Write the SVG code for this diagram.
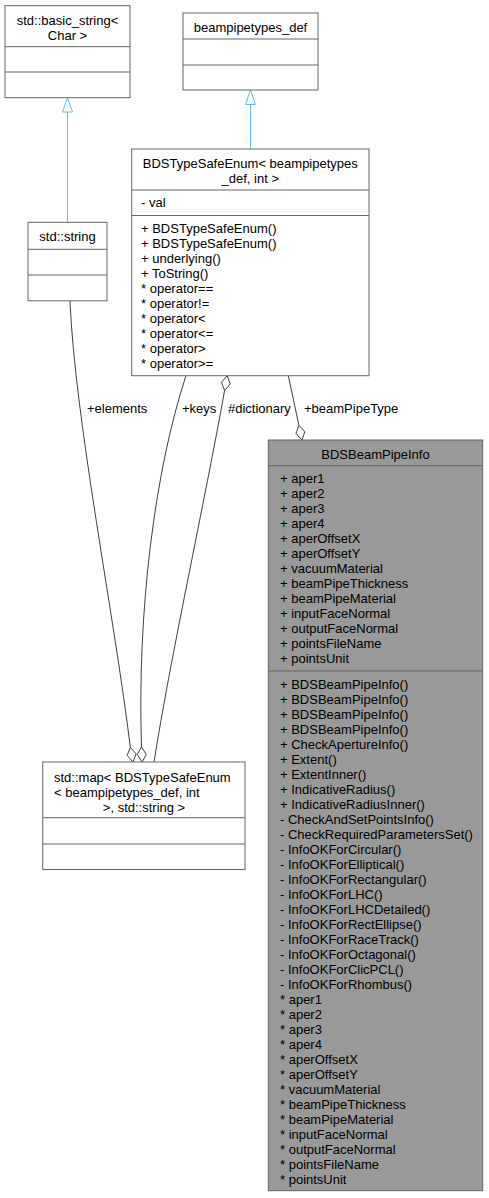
<svg xmlns="http://www.w3.org/2000/svg" width="489" height="1198" viewBox="0 0 489 1198">
<style>
.box{fill:#ffffff;stroke:#666666;stroke-width:1}
.hl{fill:#999999;stroke:#666666;stroke-width:1}
.sep{stroke:#666666;stroke-width:1}
text{font-family:"Liberation Sans",Arial,Helvetica,sans-serif;font-size:13px;fill:#000000}
.c{text-anchor:middle}
.edge{fill:none;stroke:#404040;stroke-width:1}
.inh{fill:none;stroke:#63B8FF;stroke-width:1}
.tri{fill:#ffffff;stroke:#63B8FF;stroke-width:1}
.dia{fill:#ffffff;stroke:#404040;stroke-width:1}
</style>
<rect width="489" height="1198" fill="#ffffff"/>
<g id="connectors">
  <path class="inh" d="M67.5,112 L67.5,222"/>
  <polygon class="tri" points="67.5,97.7 72.5,112 62.5,112"/>
  <path class="inh" d="M250.5,104.5 L250.5,149"/>
  <polygon class="tri" points="250.5,90 255.5,104.5 245.5,104.5"/>
  <path class="edge" d="M70,301 C75,420 115,620 130.3,747.3"/>
  <polygon class="dia" points="133,762 136,753.8 130.3,747.3 127.2,755.4"/>
  <text x="87" y="412.5">+elements</text>
  <path class="edge" d="M186,375.7 C155,470 137,610 141.5,747"/>
  <polygon class="dia" points="142,762 146.3,754.5 141.5,747 137.2,754.5"/>
  <text x="182" y="412.5">+keys</text>
  <path class="edge" d="M154,762 C170,660 205,500 224.6,390.5"/>
  <polygon class="dia" points="227.2,375.7 230.3,383.9 224.6,390.5 221.5,382.3"/>
  <text x="228" y="412.5">#dictionary</text>
  <path class="edge" d="M288.3,375.7 L298.9,425.3"/>
  <polygon class="dia" points="302,440 304.8,431.7 298.9,425.3 296,433.6"/>
  <text x="304" y="412.5">+beamPipeType</text>
</g>
<g id="node-basic_string">
  <rect class="box" x="5" y="5.7" width="125" height="92"/>
  <line class="sep" x1="5" y1="46.7" x2="130" y2="46.7"/>
  <line class="sep" x1="5" y1="72" x2="130" y2="72"/>
  <text class="c" x="67.5" y="24.5">std::basic_string&lt;</text>
  <text class="c" x="67.5" y="39.5">Char &gt;</text>
</g>
<g id="node-beampipetypes_def">
  <rect class="box" x="183" y="13" width="135" height="77"/>
  <line class="sep" x1="183" y1="39" x2="318" y2="39"/>
  <line class="sep" x1="183" y1="65" x2="318" y2="65"/>
  <text class="c" x="250.5" y="32">beampipetypes_def</text>
</g>
<g id="node-BDSTypeSafeEnum">
  <rect class="box" x="131.7" y="149" width="237.3" height="226.7"/>
  <line class="sep" x1="131.7" y1="190" x2="369" y2="190"/>
  <line class="sep" x1="131.7" y1="215.5" x2="369" y2="215.5"/>
  <text class="c" x="250.3" y="168">BDSTypeSafeEnum&lt; beampipetypes</text>
  <text class="c" x="250.3" y="183">_def, int &gt;</text>
  <text x="141" y="207">- val</text>
  <text x="141" y="233"><tspan x="141" dy="0">+ BDSTypeSafeEnum()</tspan><tspan x="141" dy="15">+ BDSTypeSafeEnum()</tspan><tspan x="141" dy="15">+ underlying()</tspan><tspan x="141" dy="15">+ ToString()</tspan><tspan x="141" dy="15">* operator==</tspan><tspan x="141" dy="15">* operator!=</tspan><tspan x="141" dy="15">* operator&lt;</tspan><tspan x="141" dy="15">* operator&lt;=</tspan><tspan x="141" dy="15">* operator&gt;</tspan><tspan x="141" dy="15">* operator&gt;=</tspan></text>
</g>
<g id="node-std-string">
  <rect class="box" x="28" y="222.3" width="79" height="78.5"/>
  <line class="sep" x1="28" y1="249.3" x2="107" y2="249.3"/>
  <line class="sep" x1="28" y1="275" x2="107" y2="275"/>
  <text class="c" x="67.5" y="241">std::string</text>
</g>
<g id="node-BDSBeamPipeInfo">
  <rect class="hl" x="268.3" y="440" width="214.4" height="750.7"/>
  <line class="sep" x1="268.3" y1="465.7" x2="482.7" y2="465.7"/>
  <line class="sep" x1="268.3" y1="671" x2="482.7" y2="671"/>
  <text class="c" x="375.5" y="459">BDSBeamPipeInfo</text>
  <text x="280" y="482.5"><tspan x="280" dy="0">+ aper1</tspan><tspan x="280" dy="15">+ aper2</tspan><tspan x="280" dy="15">+ aper3</tspan><tspan x="280" dy="15">+ aper4</tspan><tspan x="280" dy="15">+ aperOffsetX</tspan><tspan x="280" dy="15">+ aperOffsetY</tspan><tspan x="280" dy="15">+ vacuumMaterial</tspan><tspan x="280" dy="15">+ beamPipeThickness</tspan><tspan x="280" dy="15">+ beamPipeMaterial</tspan><tspan x="280" dy="15">+ inputFaceNormal</tspan><tspan x="280" dy="15">+ outputFaceNormal</tspan><tspan x="280" dy="15">+ pointsFileName</tspan><tspan x="280" dy="15">+ pointsUnit</tspan></text>
  <text x="280" y="689"><tspan x="280" dy="0">+ BDSBeamPipeInfo()</tspan><tspan x="280" dy="15">+ BDSBeamPipeInfo()</tspan><tspan x="280" dy="15">+ BDSBeamPipeInfo()</tspan><tspan x="280" dy="15">+ BDSBeamPipeInfo()</tspan><tspan x="280" dy="15">+ CheckApertureInfo()</tspan><tspan x="280" dy="15">+ Extent()</tspan><tspan x="280" dy="15">+ ExtentInner()</tspan><tspan x="280" dy="15">+ IndicativeRadius()</tspan><tspan x="280" dy="15">+ IndicativeRadiusInner()</tspan><tspan x="280" dy="15">- CheckAndSetPointsInfo()</tspan><tspan x="280" dy="15">- CheckRequiredParametersSet()</tspan><tspan x="280" dy="15">- InfoOKForCircular()</tspan><tspan x="280" dy="15">- InfoOKForElliptical()</tspan><tspan x="280" dy="15">- InfoOKForRectangular()</tspan><tspan x="280" dy="15">- InfoOKForLHC()</tspan><tspan x="280" dy="15">- InfoOKForLHCDetailed()</tspan><tspan x="280" dy="15">- InfoOKForRectEllipse()</tspan><tspan x="280" dy="15">- InfoOKForRaceTrack()</tspan><tspan x="280" dy="15">- InfoOKForOctagonal()</tspan><tspan x="280" dy="15">- InfoOKForClicPCL()</tspan><tspan x="280" dy="15">- InfoOKForRhombus()</tspan><tspan x="280" dy="15">* aper1</tspan><tspan x="280" dy="15">* aper2</tspan><tspan x="280" dy="15">* aper3</tspan><tspan x="280" dy="15">* aper4</tspan><tspan x="280" dy="15">* aperOffsetX</tspan><tspan x="280" dy="15">* aperOffsetY</tspan><tspan x="280" dy="15">* vacuumMaterial</tspan><tspan x="280" dy="15">* beamPipeThickness</tspan><tspan x="280" dy="15">* beamPipeMaterial</tspan><tspan x="280" dy="15">* inputFaceNormal</tspan><tspan x="280" dy="15">* outputFaceNormal</tspan><tspan x="280" dy="15">* pointsFileName</tspan><tspan x="280" dy="15">* pointsUnit</tspan></text>
</g>
<g id="node-std-map">
  <rect class="box" x="42.7" y="762" width="202.3" height="107.5"/>
  <line class="sep" x1="42.7" y1="817.7" x2="245" y2="817.7"/>
  <line class="sep" x1="42.7" y1="844" x2="245" y2="844"/>
  <text x="54" y="781.5">std::map&lt; BDSTypeSafeEnum</text>
  <text x="54" y="796.5">&lt; beampipetypes_def, int</text>
  <text class="c" x="144" y="811.5">&gt;, std::string &gt;</text>
</g>
</svg>
